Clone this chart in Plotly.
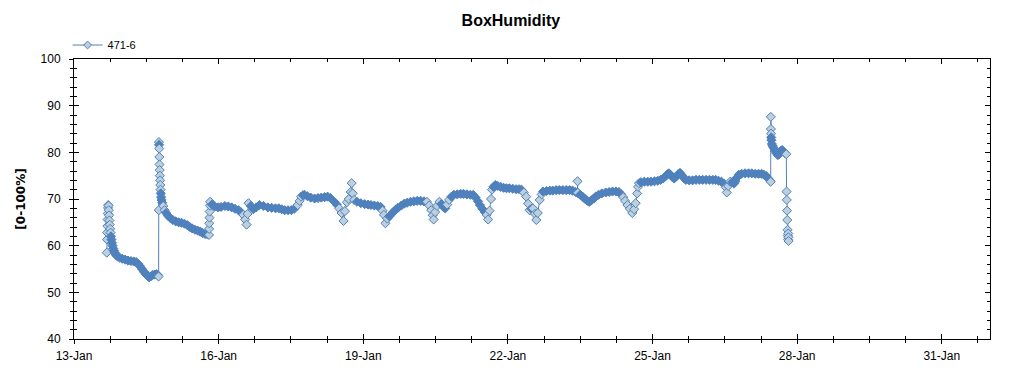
import plotly.graph_objects as go
from datetime import datetime, timedelta

title_text = "BoxHumidity"
series_name = "471-6"
y_title = "[0-100%]"

# time as fractional day of January, humidity in %
time_days = [
    13.680, 13.684, 13.688, 13.692, 13.696, 13.700, 13.705, 13.710, 13.716, 13.722,
    13.728, 13.735, 13.742, 13.750, 13.758, 13.767, 13.777, 13.788, 13.800, 13.815,
    13.830, 13.845, 13.862, 13.880, 13.900,
    13.95, 14.00, 14.06, 14.12, 14.18, 14.24, 14.29, 14.33, 14.37, 14.41,
    14.45, 14.49, 14.53, 14.56, 14.59, 14.63, 14.67, 14.71, 14.74, 14.755,
    14.758, 14.761, 14.764, 14.767, 14.770, 14.774, 14.778, 14.782, 14.786, 14.790,
    14.795, 14.800, 14.807, 14.815, 14.828,
    14.85, 14.88, 14.91, 14.95, 15.00, 15.05, 15.11, 15.17, 15.23, 15.29,
    15.35, 15.40, 15.45, 15.51, 15.57, 15.62, 15.67, 15.72, 15.77, 15.80,
    15.803, 15.806, 15.810, 15.814, 15.818, 15.824,
    15.86, 15.92, 15.99, 16.05, 16.13, 16.20, 16.27, 16.34, 16.41, 16.46,
    16.51, 16.55, 16.58, 16.60, 16.62, 16.67, 16.72, 16.78, 16.85, 16.93,
    17.02, 17.10, 17.18, 17.25, 17.31, 17.37, 17.44, 17.51, 17.57, 17.64,
    17.68, 17.71, 17.75, 17.78,
    17.84, 17.91, 17.99, 18.06, 18.13, 18.20, 18.26, 18.32, 18.40, 18.45,
    18.50, 18.55, 18.59, 18.62, 18.66, 18.70, 18.74, 18.76, 18.78, 18.81,
    18.87, 18.95, 19.03, 19.10, 19.16, 19.23, 19.30, 19.36, 19.40, 19.43,
    19.46, 19.50, 19.54, 19.57,
    19.62, 19.67, 19.72, 19.79, 19.85, 19.91, 19.98, 20.05, 20.12, 20.19,
    20.26, 20.32, 20.37, 20.41, 20.44, 20.46, 20.49, 20.53, 20.58, 20.62,
    20.67, 20.70, 20.74, 20.78, 20.83, 20.88, 20.95, 21.02, 21.08, 21.15,
    21.22, 21.28, 21.33, 21.38, 21.42, 21.47, 21.52, 21.56, 21.59, 21.62,
    21.65, 21.67,
    21.70, 21.74, 21.79, 21.85, 21.91, 21.97, 22.03, 22.10, 22.17, 22.23,
    22.28, 22.33, 22.38, 22.42, 22.45, 22.49, 22.52, 22.56, 22.59, 22.62,
    22.66, 22.70, 22.73,
    22.80, 22.87, 22.93, 23.00, 23.07, 23.14, 23.21, 23.28, 23.34, 23.40,
    23.44, 23.445, 23.45, 23.50, 23.55, 23.60, 23.65, 23.69, 23.73, 23.78,
    23.82, 23.88, 23.95, 24.03, 24.10, 24.17, 24.24, 24.30, 24.35, 24.39,
    24.43, 24.48, 24.53, 24.58, 24.62, 24.65, 24.68, 24.70, 24.72,
    24.76, 24.83, 24.90, 24.97, 25.04, 25.11, 25.17, 25.22, 25.27, 25.31,
    25.34, 25.38, 25.42, 25.45, 25.49, 25.53, 25.57, 25.61, 25.65, 25.69,
    25.76, 25.83, 25.90, 25.97, 26.04, 26.11, 26.18, 26.25, 26.31, 26.37,
    26.43, 26.48, 26.52, 26.54, 26.57, 26.61, 26.65, 26.69, 26.72, 26.75,
    26.79, 26.85, 26.92, 26.99, 27.06, 27.13, 27.20, 27.26, 27.31, 27.36,
    27.40, 27.44, 27.451,
    27.453, 27.456, 27.459, 27.462, 27.466, 27.475, 27.49, 27.51, 27.54, 27.57,
    27.60, 27.63, 27.66, 27.69, 27.72, 27.75, 27.775,
    27.780, 27.785, 27.790, 27.795, 27.800, 27.805, 27.810, 27.814, 27.818, 27.822,
]

humidity = [
    58.5, 61.3, 62.8, 64.2, 65.6, 66.9, 68.1, 68.7, 68.6, 67.6,
    66.5, 65.4, 64.5, 63.6, 62.8, 62.0, 61.3, 60.6, 60.0, 59.4,
    58.9, 58.5, 58.2, 57.9, 57.7,
    57.4, 57.2, 57.0, 56.8, 56.7, 56.6, 56.5, 56.1, 55.6, 55.0,
    54.4, 53.9, 53.5, 53.2, 53.4, 53.7, 53.8, 53.9, 53.7, 53.4,
    67.6, 82.2, 81.6, 80.8, 79.0, 77.4, 76.2, 75.0, 74.0, 73.0,
    72.0, 71.2, 70.4, 69.8, 69.2,
    68.5, 67.6, 67.0, 66.4, 65.9, 65.5, 65.2, 65.0, 64.9, 64.7,
    64.4, 64.0, 63.7, 63.4, 63.2, 63.0, 62.7, 62.5, 62.4, 62.3,
    63.6, 64.8, 66.0, 67.3, 68.6, 69.4,
    68.8, 68.4, 68.2, 68.3, 68.5, 68.4, 68.2, 67.9, 67.6, 67.2,
    66.6, 65.6, 64.5, 66.8, 69.1, 68.5, 67.8, 68.2, 68.7, 68.5,
    68.2, 68.1, 68.0, 68.0, 67.8, 67.6, 67.6, 67.6, 67.9, 68.7,
    69.6, 70.5, 70.8, 70.9,
    70.6, 70.3, 70.1, 70.2, 70.3, 70.4, 70.5, 70.2, 69.4, 68.8,
    68.0, 67.0, 65.3, 67.4, 69.3, 70.0, 71.5, 73.4, 71.2, 69.8,
    69.4, 69.1, 68.9, 68.8, 68.7, 68.6, 68.5, 68.3, 67.5, 66.6,
    64.8, 65.8, 66.3, 66.6,
    67.2, 67.7, 68.1, 68.6, 69.0, 69.2, 69.4, 69.5, 69.6, 69.6,
    69.5, 69.4, 68.6, 67.6, 66.5, 65.6, 67.2, 68.5, 69.4, 68.9,
    68.2, 68.0, 68.8, 69.8, 70.5, 70.9, 71.0, 71.1, 71.1, 71.0,
    70.9, 70.9, 70.3, 69.5, 68.7, 67.9, 67.2, 66.6, 65.6, 67.5,
    70.0, 72.0,
    72.6, 73.0, 72.8, 72.6, 72.4, 72.3, 72.3, 72.2, 72.1, 72.1,
    72.0, 71.4, 70.5, 69.0, 67.6, 67.9, 68.0, 66.8, 65.5, 67.0,
    69.8, 71.0, 71.6,
    71.7, 71.8, 71.8, 71.9, 71.9, 71.9, 71.9, 71.9, 71.8, 71.5,
    71.4, 73.8, 71.3, 70.9, 70.5, 70.0, 69.6, 69.4, 69.7, 70.1,
    70.5, 70.9, 71.2, 71.4, 71.5, 71.6, 71.6, 71.5, 71.0, 70.4,
    69.6, 68.7, 67.9, 67.0, 67.8, 69.1, 71.2, 72.6, 73.4,
    73.6, 73.7, 73.7, 73.7, 73.8, 73.9, 74.1, 74.4, 74.9, 75.3,
    75.5, 75.1, 74.6, 74.4, 74.8, 75.3, 75.6, 75.1, 74.5, 74.1,
    74.0, 74.0, 74.1, 74.1, 74.1, 74.1, 74.1, 74.1, 74.1, 73.9,
    73.7, 73.3, 72.5, 71.4, 72.8, 73.7, 73.6, 73.3, 73.8, 74.6,
    75.2, 75.4, 75.5, 75.5, 75.5, 75.4, 75.4, 75.4, 75.2, 74.9,
    74.4, 73.9, 73.7,
    87.6, 85.0, 84.0, 83.2, 82.6, 81.8, 81.4, 81.0, 80.3, 79.8,
    79.4, 79.6, 80.3, 80.5, 80.1, 79.8, 79.6,
    71.6, 69.8, 67.5, 65.5, 63.4, 62.2, 61.3, 62.6, 61.8, 61.0,
]

x_start = datetime(2014, 1, 13)
x_end = datetime(2014, 2, 1)
y_min, y_max = 40, 100

base = datetime(2014, 1, 1)
times = [base + timedelta(days=d - 1) for d in time_days]

LINE = "#4f81bd"
FILL = "#bccfdd"

# light fill for isolated points (steep jumps), dense band gets dark fill
fills = []
n = len(humidity)
for i, v in enumerate(humidity):
    prev = abs(v - humidity[i - 1]) if i > 0 else 99
    nxt = abs(humidity[i + 1] - v) if i < n - 1 else 99
    fills.append(FILL if max(prev, nxt) > 0.8 else LINE)

fig = go.Figure()
fig.add_trace(go.Scatter(
    x=times, y=humidity, mode="lines+markers", showlegend=False,
    line=dict(color=LINE, width=1),
    marker=dict(symbol="diamond", size=7, color=fills, line=dict(color=LINE, width=1)),
))
fig.add_trace(go.Scatter(
    x=[None], y=[None], mode="lines+markers", name=series_name,
    line=dict(color=LINE, width=1),
    marker=dict(symbol="diamond", size=6, color=FILL, line=dict(color=LINE, width=1)),
))
fig.add_trace(go.Scatter(x=[], y=[], xaxis="x2", yaxis="y2", showlegend=False, hoverinfo="skip"))

DAY = 86400000
tickfont = dict(family="Liberation Sans, Arial, sans-serif", size=12, color="black")

common_x = dict(type="date", range=[x_start, x_end], tick0="2014-01-13", dtick=3 * DAY,
                showgrid=False, zeroline=False, tickcolor="black")
common_y = dict(range=[y_min, y_max], tick0=0, dtick=10, showgrid=False, zeroline=False,
                tickcolor="black")

# the page body adds an 8px offset; the figure is sized to fit the window
fig.update_layout(
    width=1016, height=367,
    margin=dict(l=60, r=34, t=51, b=36),
    paper_bgcolor="white", plot_bgcolor="white",
    title=dict(text=title_text, x=0.495, xanchor="center", xref="container",
               y=1 - 12 / 367, yref="container", yanchor="middle",
               font=dict(family="Liberation Sans, Arial, sans-serif", size=16,
                         color="black", weight="bold")),
    showlegend=True,
    legend=dict(x=-0.007, xanchor="left", y=1.05, yanchor="middle", orientation="h",
                bgcolor="rgba(0,0,0,0)",
                font=dict(family="Liberation Sans, Arial, sans-serif", size=11, color="black")),
    xaxis=dict(**common_x, tickformat="%d-%b", ticks="inside", ticklen=5, mirror="ticks",
               showline=True, linecolor="black", linewidth=1, tickfont=tickfont,
               ticklabelstandoff=6,
               minor=dict(ticks="inside", ticklen=3, dtick=0.75 * DAY, tick0="2014-01-13",
                          tickcolor="black", showgrid=False)),
    xaxis2=dict(**common_x, overlaying="x", anchor="y", side="bottom", ticks="outside",
                ticklen=4, showticklabels=False, showline=False,
                minor=dict(ticks="outside", ticklen=3, dtick=0.75 * DAY, tick0="2014-01-13",
                           tickcolor="black", showgrid=False)),
    yaxis=dict(**common_y, ticks="inside", ticklen=5, mirror="ticks", showline=True,
               linecolor="black", linewidth=1, tickfont=tickfont, ticklabelstandoff=10,
               title=dict(text=y_title, standoff=12,
                          font=dict(family="DejaVu Sans, sans-serif", size=12,
                                    color="black", weight="bold")),
               minor=dict(ticks="inside", ticklen=3, dtick=2, tickcolor="black",
                          showgrid=False)),
    yaxis2=dict(**common_y, overlaying="y", anchor="x", side="left", ticks="outside",
                ticklen=4, showticklabels=False, showline=False,
                minor=dict(ticks="outside", ticklen=3, dtick=2, tickcolor="black",
                           showgrid=False)),
)

fig.write_html("out.html")
